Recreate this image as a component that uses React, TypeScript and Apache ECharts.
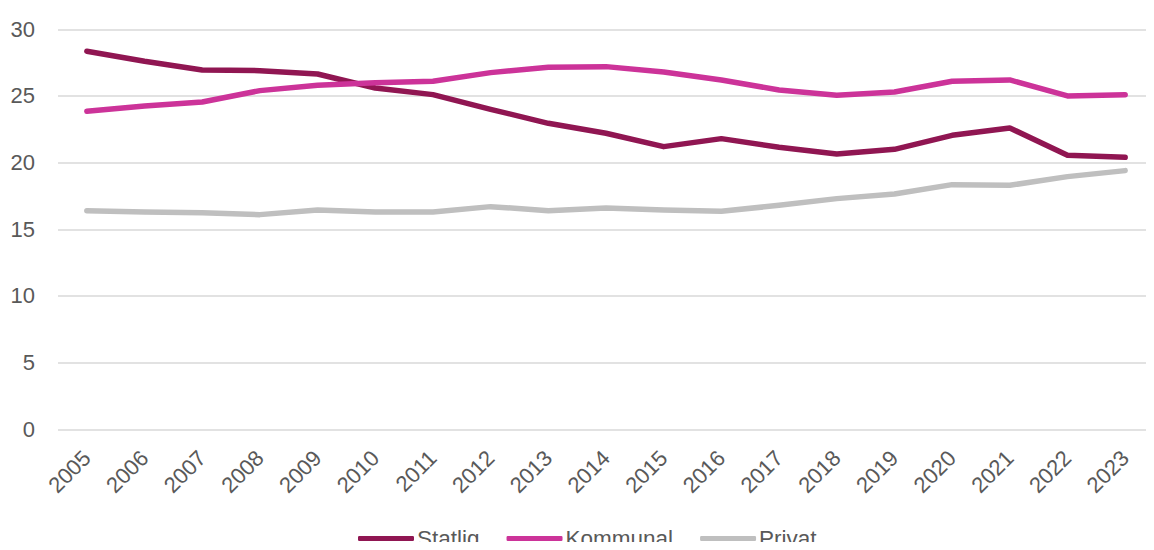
import React, { useEffect, useRef } from "react";
import * as echarts from "echarts";

const years = ["2005","2006","2007","2008","2009","2010","2011","2012","2013","2014","2015","2016","2017","2018","2019","2020","2021","2022","2023"];
const statlig = [28.35, 27.6, 26.95, 26.9, 26.65, 25.6, 25.1, 24.0, 22.95, 22.2, 21.2, 21.8, 21.15, 20.65, 21.0, 22.05, 22.6, 20.55, 20.4];
const kommunal = [23.85, 24.25, 24.55, 25.4, 25.8, 26.0, 26.1, 26.75, 27.15, 27.2, 26.8, 26.2, 25.45, 25.05, 25.3, 26.1, 26.2, 25.0, 25.1];
const privat = [16.4, 16.3, 16.25, 16.1, 16.45, 16.3, 16.3, 16.7, 16.4, 16.6, 16.45, 16.35, 16.8, 17.3, 17.65, 18.35, 18.3, 18.95, 19.4];
const seriesNames = ["Statlig", "Kommunal", "Privat"];
const colors = ["#901652", "#CC3399", "#BFBFBF"];

const FONT = "'Liberation Sans', Arial, sans-serif";

export default function App() {
  const ref = useRef<HTMLDivElement>(null);
  useEffect(() => {
    if (!ref.current) return;
    const chart = echarts.init(ref.current, undefined, { renderer: "svg" });
    const data = [statlig, kommunal, privat];
    chart.setOption({
      animation: false,
      textStyle: { fontFamily: FONT },
      grid: { left: 58, top: 29.3, height: 400, width: 1104 },
      legend: {
        left: 358,
        top: 527,
        padding: 0,
        icon: "roundRect",
        itemWidth: 56,
        itemHeight: 5,
        itemGap: 27,
        textStyle: { fontSize: 22.5, color: "#595959", fontFamily: FONT, padding: [0, 0, 0, -2] },
        data: seriesNames,
      },
      xAxis: {
        type: "category",
        data: years,
        boundaryGap: true,
        axisLine: { show: false },
        axisTick: { show: false },
        axisLabel: { rotate: 45, fontSize: 22, color: "#595959", margin: 25, fontFamily: FONT },
      },
      yAxis: {
        type: "value",
        min: 0,
        max: 30,
        interval: 5,
        axisLine: { show: false },
        axisTick: { show: false },
        axisLabel: { fontSize: 22, color: "#595959", margin: 23, fontFamily: FONT },
        splitLine: { lineStyle: { color: "#D9D9D9", width: 1.5 } },
      },
      series: seriesNames.map((name, i) => ({
        name,
        type: "line",
        data: data[i],
        symbol: "none",
        itemStyle: { color: colors[i] },
        lineStyle: { color: colors[i], width: 5.5, cap: "round", join: "round" },
      })),
    });
    return () => chart.dispose();
  }, []);
  return <div ref={ref} style={{ width: 1154, height: 550, margin: -8 }} />;
}
